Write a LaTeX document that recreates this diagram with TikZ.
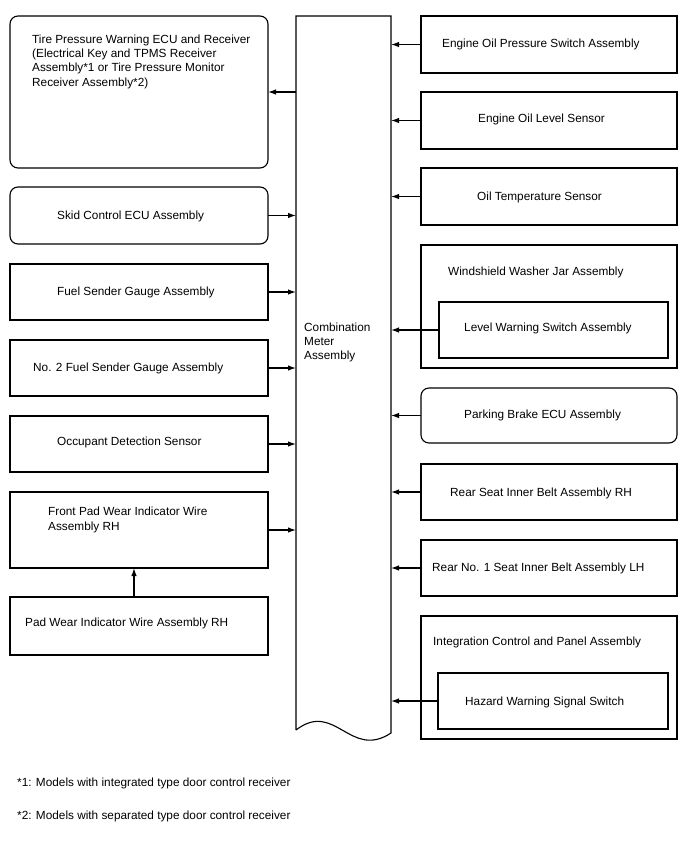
\documentclass[tikz,border=0pt]{standalone}
\usepackage{fontspec}
\setmainfont{Liberation Sans}
\usetikzlibrary{arrows.meta, calc}

\begin{document}
\begin{tikzpicture}[
  x=1pt, y=-1pt,
  font=\fontsize{11.8}{14.3}\selectfont,
  blk/.style={draw, line width=1.1pt, anchor=north west, inner sep=0pt,
              outer sep=0pt},
  lblk/.style={blk, minimum width=258pt},
  rblk/.style={blk, minimum width=256pt},
  txt/.style={anchor=base west, inner sep=0pt, align=left},
  sig/.style={-{Latex[length=8pt,width=5.5pt]}, line width=1.2pt}
]
\useasboundingbox (0,0) rectangle (688,852);

%% Combination meter
\node[blk, draw=none, minimum width=95pt, minimum height=714pt] (meter) at (296,16) {};
\draw[line width=1.1pt] (meter.south west) -- (meter.north west) -- (meter.north east)
  -- ($(meter.south east)+(0,3)$)
  .. controls ($(meter.south east)+(-41,30)$) and ($(meter.south west)+(39,-30)$) .. (meter.south west);
% multi-line texts sit on their last line
\node[txt, font=\fontsize{11.8}{14}\selectfont] (meterT) at (304,359) {Combination\\Meter\\Assembly};

%% Left column
\node[lblk, rounded corners=8pt, minimum height=152pt] (tpws) at (10,16) {};
\node[txt] (tpwsT) at (32,86) {Tire Pressure Warning ECU and Receiver\\(Electrical Key and TPMS Receiver\\Assembly*1 or Tire Pressure Monitor\\Receiver Assembly*2)};
\node[lblk, rounded corners=8pt, minimum height=57pt] (skid) at (10,187) {};
\node[txt] (skidT) at (57,219) {Skid Control ECU Assembly};
\node[lblk, minimum height=56pt] (fuel) at (10,264) {};
\node[txt] (fuelT) at (57,295) {Fuel Sender Gauge Assembly};
\node[lblk, minimum height=56pt] (fuel2) at (10,340) {};
\node[txt] (fuel2T) at (33,371) {No. 2 Fuel Sender Gauge Assembly};
\node[lblk, minimum height=56pt] (occ) at (10,416) {};
\node[txt] (occT) at (57,445) {Occupant Detection Sensor};
\node[lblk, minimum height=76pt] (frpad) at (10,492) {};
\node[txt] (frpadT) at (48,530) {Front Pad Wear Indicator Wire\\Assembly RH};
\node[lblk, minimum height=58pt] (padrh) at (10,597) {};
\node[txt] (padrhT) at (25,626) {Pad Wear Indicator Wire Assembly RH};

%% Right column
\node[rblk, minimum height=57pt] (oilp) at (421,16) {};
\node[txt] (oilpT) at (442,47) {Engine Oil Pressure Switch Assembly};
\node[rblk, minimum height=57pt] (oillvl) at (421,92) {};
\node[txt] (oillvlT) at (478,122) {Engine Oil Level Sensor};
\node[rblk, minimum height=57pt] (oiltmp) at (421,168) {};
\node[txt] (oiltmpT) at (477,200) {Oil Temperature Sensor};
\node[rblk, minimum height=123pt] (washer) at (421,245) {};
\node[txt] (washerT) at (448,275) {Windshield Washer Jar Assembly};
\node[blk, minimum width=229pt, minimum height=56pt] (lvlsw) at (439,302) {};
\node[txt] (lvlswT) at (464,331) {Level Warning Switch Assembly};
\node[rblk, rounded corners=8pt, minimum height=55pt] (park) at (421,388) {};
\node[txt] (parkT) at (464,418) {Parking Brake ECU Assembly};
\node[rblk, minimum height=56pt] (rearrh) at (421,464) {};
\node[txt] (rearrhT) at (450,496) {Rear Seat Inner Belt Assembly RH};
\node[rblk, minimum height=56pt] (rearlh) at (421,540) {};
\node[txt] (rearlhT) at (432,571) {Rear No. 1 Seat Inner Belt Assembly LH};
\node[rblk, minimum height=123pt] (integ) at (421,616) {};
\node[txt] (integT) at (433,645) {Integration Control and Panel Assembly};
\node[blk, minimum width=230pt, minimum height=56pt] (hazard) at (438,673) {};
\node[txt] (hazardT) at (465,705) {Hazard Warning Signal Switch};

%% Notes
\node[txt] (note1) at (17,786) {*1: Models with integrated type door control receiver};
\node[txt] (note2) at (17,819) {*2: Models with separated type door control receiver};

%% Signals into / out of the meter
\draw[sig] (tpws.east -| meter.west) -- (tpws.east);
\foreach \src in {skid, fuel, fuel2, occ, frpad}
  \draw[sig] (\src.east) -- (\src.east -| meter.west);
\foreach \src in {oilp, oillvl, oiltmp, lvlsw, park, rearrh, rearlh, hazard}
  \draw[sig] (\src.west) -- (\src.west -| meter.east);
\draw[sig] ([xshift=-5pt]padrh.north) -- ([xshift=-5pt]padrh.north |- frpad.south);

\end{tikzpicture}
\end{document}
